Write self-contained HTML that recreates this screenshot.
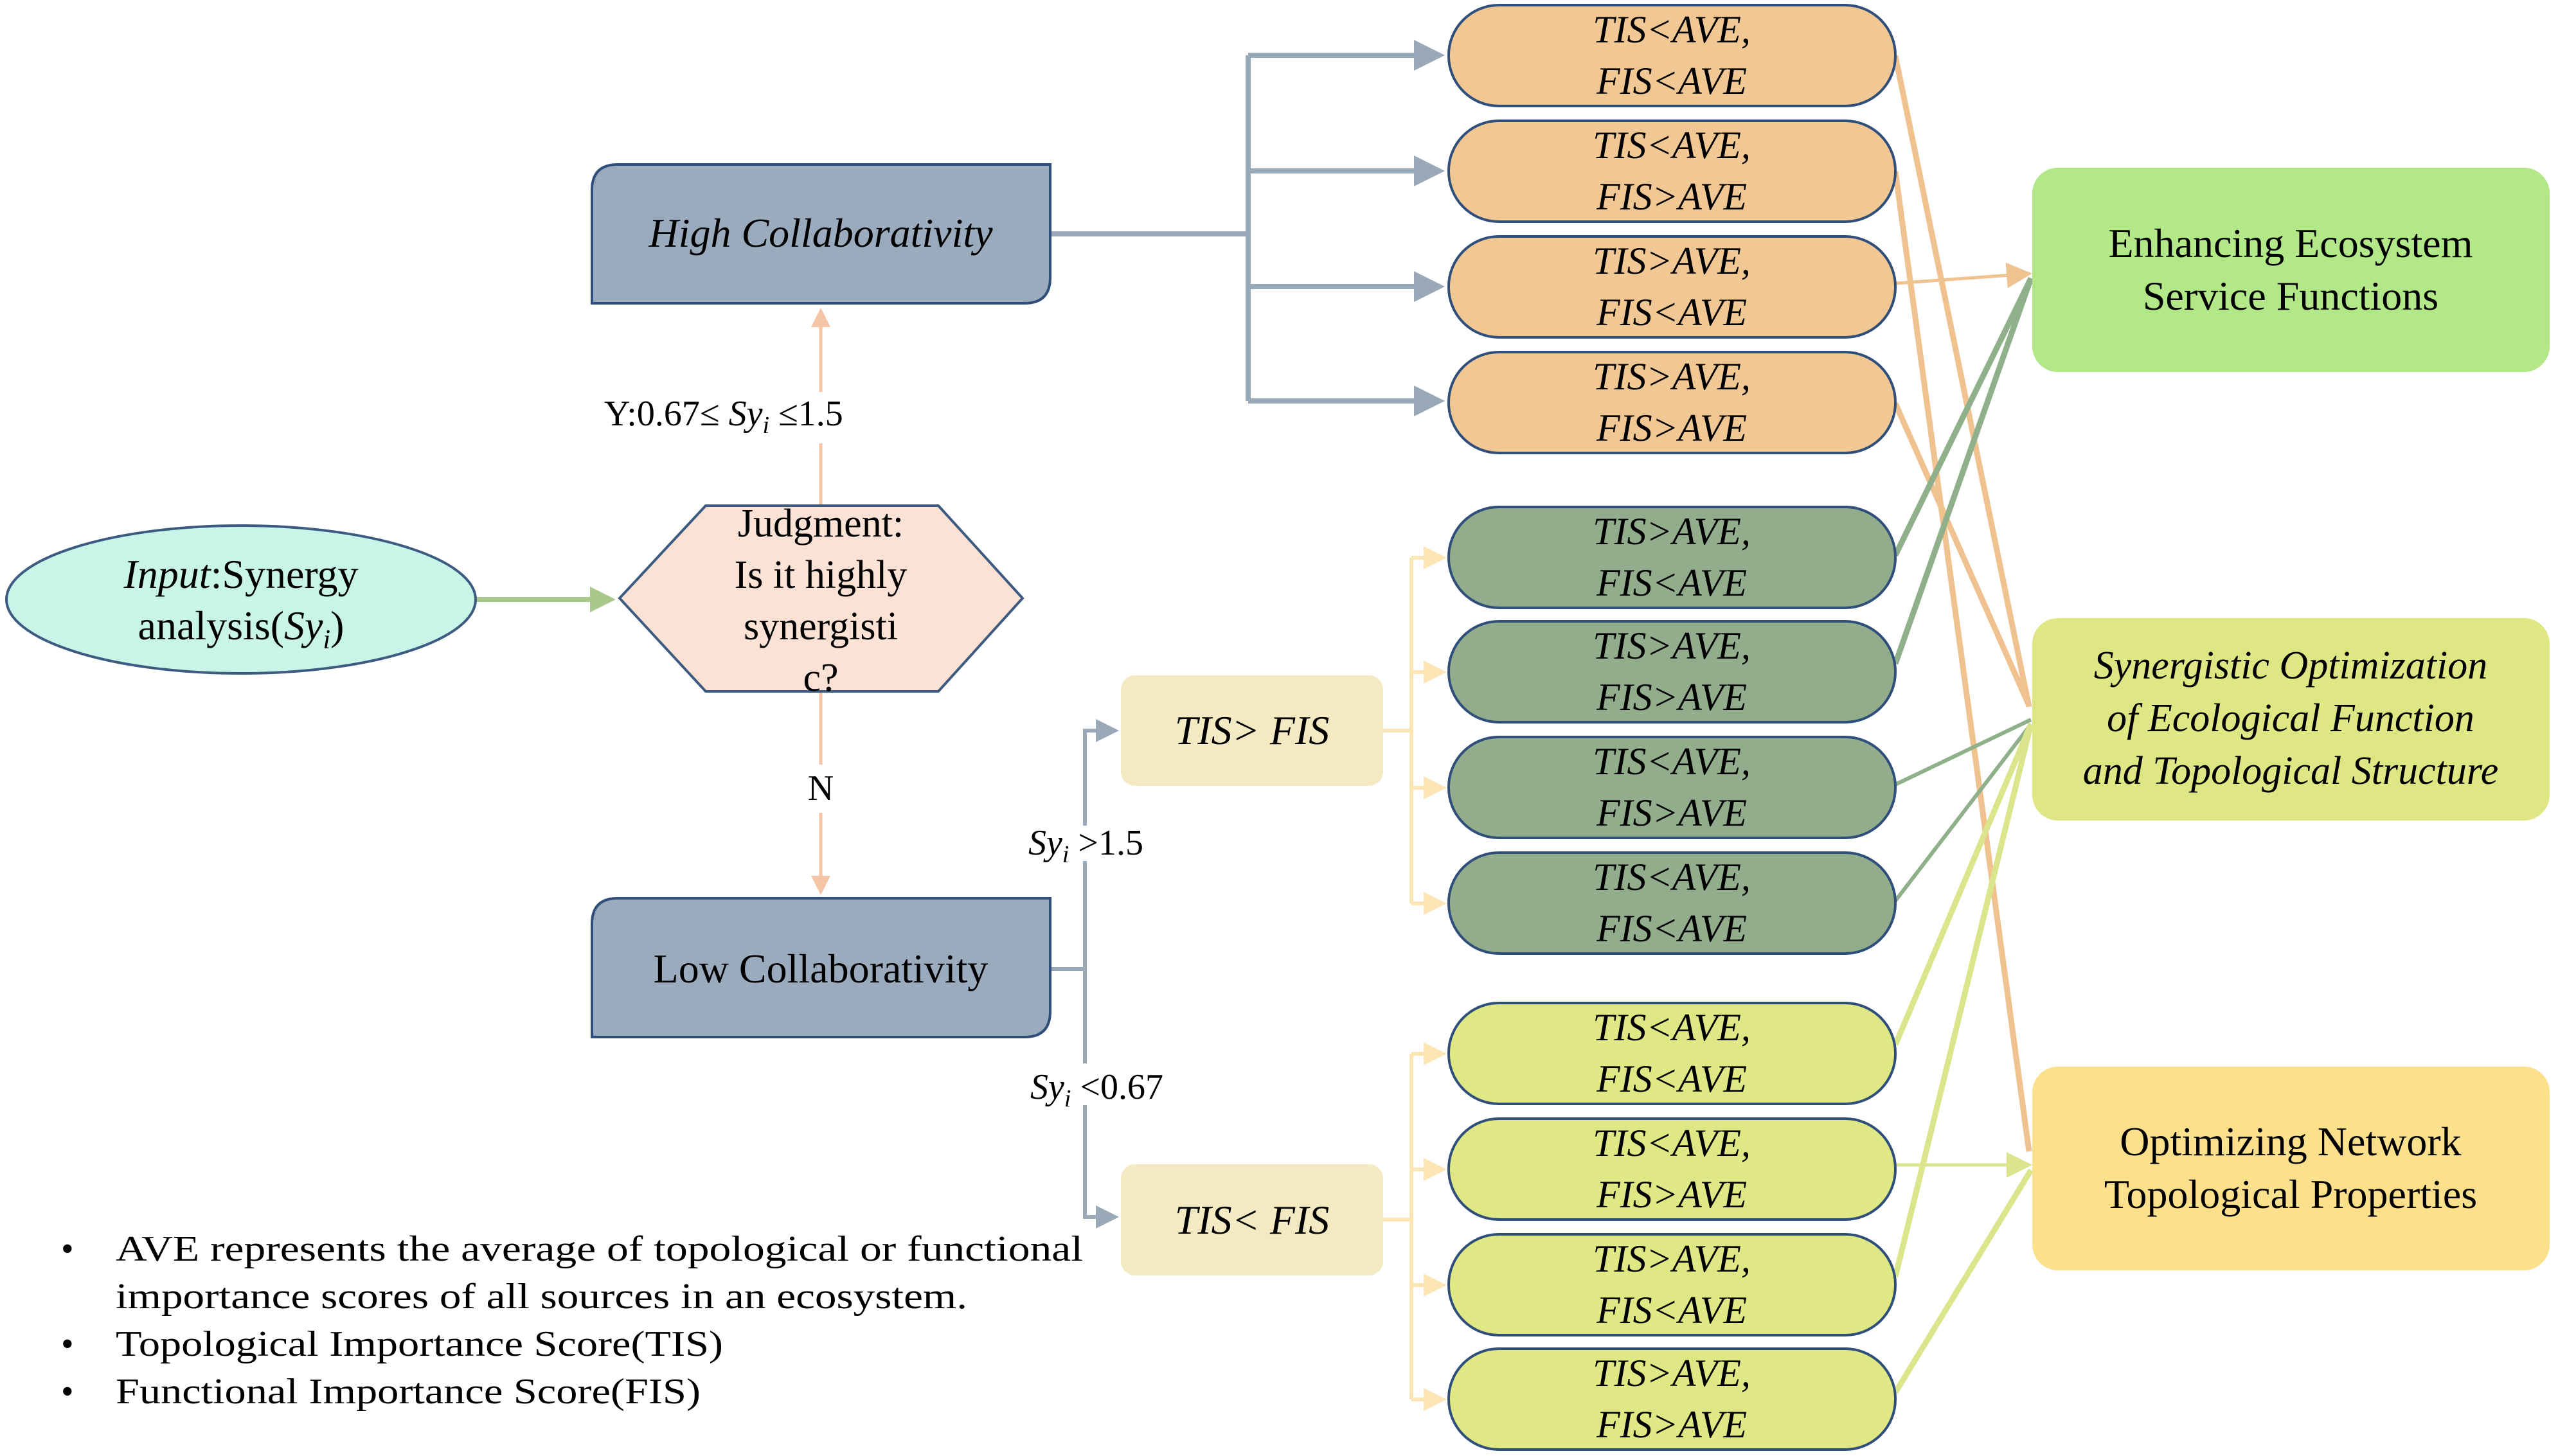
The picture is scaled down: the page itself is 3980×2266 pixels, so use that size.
<!DOCTYPE html>
<html><head><meta charset="utf-8"><style>html,body{margin:0;padding:0;background:#fff}svg{display:block}</style></head>
<body>
<svg width="3980" height="2266" viewBox="0 0 3980 2266" xmlns="http://www.w3.org/2000/svg" font-family="Liberation Serif, serif">
<defs>
<marker id="ag" markerWidth="6" markerHeight="6" refX="5" refY="3" orient="auto" markerUnits="strokeWidth"><path d="M0,0 L6,3 L0,6 z" fill="#9aa9b8"/></marker>
<marker id="ay" markerWidth="6" markerHeight="6" refX="5" refY="3" orient="auto" markerUnits="strokeWidth"><path d="M0,0 L6,3 L0,6 z" fill="#fde6b5"/></marker>
<marker id="ap" markerWidth="6" markerHeight="6" refX="5" refY="3" orient="auto" markerUnits="strokeWidth"><path d="M0,0 L6,3 L0,6 z" fill="#f5c3a5"/></marker>
<marker id="agr" markerWidth="5" markerHeight="5" refX="4" refY="2.5" orient="auto" markerUnits="strokeWidth"><path d="M0,0 L5,2.5 L0,5 z" fill="#a9c98c"/></marker>
<marker id="ao" markerWidth="8" markerHeight="8" refX="7" refY="4" orient="auto" markerUnits="strokeWidth"><path d="M0,0 L8,4 L0,8 z" fill="#efc290"/></marker>
<marker id="ayl" markerWidth="8" markerHeight="8" refX="7" refY="4" orient="auto" markerUnits="strokeWidth"><path d="M0,0 L8,4 L0,8 z" fill="#dbe68c"/></marker>
</defs>

<g fill="none" stroke-width="9">
<line x1="2949" y1="87" x2="3157" y2="1100" stroke="#efc290"/>
<line x1="2949" y1="267" x2="3157" y2="1792" stroke="#efc290"/>
<line x1="2949" y1="441" x2="3157" y2="426" stroke="#efc290" stroke-width="5" marker-end="url(#ao)"/>
<line x1="2949" y1="628" x2="3157" y2="1098" stroke="#efc290"/>
<line x1="2949" y1="864" x2="3160" y2="433" stroke="#8fb08a"/>
<line x1="2949" y1="1033" x2="3160" y2="433" stroke="#8fb08a"/>
<line x1="2949" y1="1221" x2="3160" y2="1120" stroke="#8fb08a" stroke-width="6"/>
<line x1="2949" y1="1402" x2="3160" y2="1127" stroke="#8fb08a" stroke-width="6"/>
<line x1="2949" y1="1626" x2="3160" y2="1127" stroke="#dbe68c"/>
<line x1="2949" y1="1813" x2="3157" y2="1813" stroke="#dbe68c" stroke-width="5" marker-end="url(#ayl)"/>
<line x1="2949" y1="1987" x2="3160" y2="1127" stroke="#dbe68c"/>
<line x1="2949" y1="2167" x2="3160" y2="1821" stroke="#dbe68c"/>
</g>

<g fill="none" stroke="#9aa9b8" stroke-width="8">
<line x1="1634" y1="364" x2="1942" y2="364"/>
<line x1="1942" y1="86" x2="1942" y2="624"/>
<line x1="1942" y1="86" x2="2240" y2="86" marker-end="url(#ag)"/>
<line x1="1942" y1="266" x2="2240" y2="266" marker-end="url(#ag)"/>
<line x1="1942" y1="446" x2="2240" y2="446" marker-end="url(#ag)"/>
<line x1="1942" y1="624" x2="2240" y2="624" marker-end="url(#ag)"/>
<line x1="1634" y1="1508" x2="1688" y2="1508" stroke-width="6"/>
<polyline points="1688,1285 1688,1137 1735,1137" marker-end="url(#ag)" stroke-width="6"/>
<polyline points="1688,1655 1688,1340"  stroke-width="6"/>
<polyline points="1688,1720 1688,1894 1735,1894" marker-end="url(#ag)" stroke-width="6"/>
</g>

<g fill="none" stroke="#fde6b5" stroke-width="6">
<line x1="2152" y1="1137" x2="2196" y2="1137"/>
<line x1="2196" y1="868" x2="2196" y2="1406"/>
<line x1="2196" y1="868" x2="2245" y2="868" marker-end="url(#ay)"/>
<line x1="2196" y1="1046" x2="2245" y2="1046" marker-end="url(#ay)"/>
<line x1="2196" y1="1226" x2="2245" y2="1226" marker-end="url(#ay)"/>
<line x1="2196" y1="1406" x2="2245" y2="1406" marker-end="url(#ay)"/>
<line x1="2152" y1="1898" x2="2196" y2="1898"/>
<line x1="2196" y1="1640" x2="2196" y2="2178"/>
<line x1="2196" y1="1640" x2="2245" y2="1640" marker-end="url(#ay)"/>
<line x1="2196" y1="1820" x2="2245" y2="1820" marker-end="url(#ay)"/>
<line x1="2196" y1="2000" x2="2245" y2="2000" marker-end="url(#ay)"/>
<line x1="2196" y1="2178" x2="2245" y2="2178" marker-end="url(#ay)"/>
</g>

<g stroke="#f5c3a5" stroke-width="5" fill="none">
<line x1="1277" y1="610" x2="1277" y2="484" marker-end="url(#ap)"/>
<line x1="1277" y1="787" x2="1277" y2="690"/>
<line x1="1277" y1="1076" x2="1277" y2="1190"/>
<line x1="1277" y1="1265" x2="1277" y2="1388" marker-end="url(#ap)"/>
</g>
<line x1="741" y1="933" x2="950" y2="933" stroke="#a9c98c" stroke-width="8" marker-end="url(#agr)"/>

<ellipse cx="375" cy="933" rx="365" ry="115" fill="#c9f5e8" stroke="#3d5a80" stroke-width="4"/>
<text x="375" y="915" font-size="64" text-anchor="middle"><tspan font-style="italic">Input</tspan>:Synergy</text>
<text x="375" y="995" font-size="64" text-anchor="middle">analysis(<tspan font-style="italic">Sy</tspan><tspan font-style="italic" font-size="42" dy="14">i</tspan><tspan dy="-14">)</tspan></text>

<polygon points="1098,787 1460,787 1591,931 1460,1076 1098,1076 964,931" fill="#fbe2d5" stroke="#3d5a80" stroke-width="4"/>
<g font-size="62" text-anchor="middle">
<text x="1277" y="835">Judgment:</text>
<text x="1277" y="915">Is it highly</text>
<text x="1277" y="995">synergisti</text>
<text x="1277" y="1075">c?</text>
</g>

<path d="M961,256 H1634 V432 Q1634,472 1594,472 H921 V296 Q921,256 961,256 Z" fill="#9aabbd" stroke="#2f4f7a" stroke-width="4"/>
<text x="1277" y="384" font-size="64" font-style="italic" text-anchor="middle">High Collaborativity</text>
<path d="M961,1398 H1634 V1574 Q1634,1614 1594,1614 H921 V1438 Q921,1398 961,1398 Z" fill="#9aabbd" stroke="#2f4f7a" stroke-width="4"/>
<text x="1277" y="1529" font-size="64" text-anchor="middle">Low Collaborativity</text>

<g font-size="56">
<text x="940" y="662">Y:0.67≤ <tspan font-style="italic">Sy</tspan><tspan font-style="italic" font-size="38" dy="12">i</tspan><tspan dy="-12"> ≤1.5</tspan></text>
<text x="1277" y="1245" text-anchor="middle">N</text>
<text x="1600" y="1330"><tspan font-style="italic">Sy</tspan><tspan font-style="italic" font-size="38" dy="12">i</tspan><tspan dy="-12"> &gt;1.5</tspan></text>
<text x="1603" y="1710"><tspan font-style="italic">Sy</tspan><tspan font-style="italic" font-size="38" dy="12">i</tspan><tspan dy="-12"> &lt;0.67</tspan></text>
</g>

<rect x="1744" y="1051" width="408" height="172" rx="22" fill="#f3e9c2"/>
<text x="1948" y="1158" font-size="64" font-style="italic" text-anchor="middle">TIS&gt; FIS</text>
<rect x="1744" y="1812" width="408" height="173" rx="22" fill="#f3e9c2"/>
<text x="1948" y="1920" font-size="64" font-style="italic" text-anchor="middle">TIS&lt; FIS</text>

<g stroke="#2f4f7a" stroke-width="4">
<rect x="2254" y="8" width="695" height="157" rx="78" fill="#f1c794"/>
<rect x="2254" y="188" width="695" height="157" rx="78" fill="#f1c794"/>
<rect x="2254" y="368" width="695" height="157" rx="78" fill="#f1c794"/>
<rect x="2254" y="548" width="695" height="157" rx="78" fill="#f1c794"/>
<rect x="2254" y="789" width="695" height="157" rx="78" fill="#92ad8c"/>
<rect x="2254" y="967" width="695" height="157" rx="78" fill="#92ad8c"/>
<rect x="2254" y="1147" width="695" height="157" rx="78" fill="#92ad8c"/>
<rect x="2254" y="1327" width="695" height="157" rx="78" fill="#92ad8c"/>
<rect x="2254" y="1561" width="695" height="157" rx="78" fill="#dfe884"/>
<rect x="2254" y="1741" width="695" height="157" rx="78" fill="#dfe884"/>
<rect x="2254" y="1921" width="695" height="157" rx="78" fill="#dfe884"/>
<rect x="2254" y="2099" width="695" height="157" rx="78" fill="#dfe884"/>
</g>
<g font-size="60" font-style="italic" text-anchor="middle">
<text x="2601" y="66">TIS&lt;AVE,</text><text x="2601" y="146">FIS&lt;AVE</text>
<text x="2601" y="246">TIS&lt;AVE,</text><text x="2601" y="326">FIS&gt;AVE</text>
<text x="2601" y="426">TIS&gt;AVE,</text><text x="2601" y="506">FIS&lt;AVE</text>
<text x="2601" y="606">TIS&gt;AVE,</text><text x="2601" y="686">FIS&gt;AVE</text>
<text x="2601" y="847">TIS&gt;AVE,</text><text x="2601" y="927">FIS&lt;AVE</text>
<text x="2601" y="1025">TIS&gt;AVE,</text><text x="2601" y="1105">FIS&gt;AVE</text>
<text x="2601" y="1205">TIS&lt;AVE,</text><text x="2601" y="1285">FIS&gt;AVE</text>
<text x="2601" y="1385">TIS&lt;AVE,</text><text x="2601" y="1465">FIS&lt;AVE</text>
<text x="2601" y="1619">TIS&lt;AVE,</text><text x="2601" y="1699">FIS&lt;AVE</text>
<text x="2601" y="1799">TIS&lt;AVE,</text><text x="2601" y="1879">FIS&gt;AVE</text>
<text x="2601" y="1979">TIS&gt;AVE,</text><text x="2601" y="2059">FIS&lt;AVE</text>
<text x="2601" y="2157">TIS&gt;AVE,</text><text x="2601" y="2237">FIS&gt;AVE</text>
</g>

<rect x="3162" y="261" width="805" height="318" rx="40" fill="#b3e888"/>
<text x="3564" y="400" font-size="64" text-anchor="middle">Enhancing Ecosystem</text>
<text x="3564" y="482" font-size="64" text-anchor="middle">Service Functions</text>
<rect x="3162" y="962" width="805" height="315" rx="40" fill="#dfe684"/>
<g font-size="62" font-style="italic" text-anchor="middle">
<text x="3564" y="1056">Synergistic Optimization</text>
<text x="3564" y="1138">of Ecological Function</text>
<text x="3564" y="1220">and Topological Structure</text>
</g>
<rect x="3162" y="1660" width="805" height="317" rx="40" fill="#fde08c"/>
<text x="3564" y="1798" font-size="64" text-anchor="middle">Optimizing Network</text>
<text x="3564" y="1880" font-size="64" text-anchor="middle">Topological Properties</text>

<g font-size="56">
<text x="95" y="1962">•</text>
<text x="180" y="1962" textLength="1505" lengthAdjust="spacingAndGlyphs">AVE represents the average of topological or functional</text>
<text x="180" y="2036" textLength="1325" lengthAdjust="spacingAndGlyphs">importance scores of all sources in an ecosystem.</text>
<text x="95" y="2110">•</text>
<text x="180" y="2110" textLength="945" lengthAdjust="spacingAndGlyphs">Topological Importance Score(TIS)</text>
<text x="95" y="2184">•</text>
<text x="180" y="2184" textLength="910" lengthAdjust="spacingAndGlyphs">Functional Importance Score(FIS)</text>
</g>
</svg>
</body></html>
